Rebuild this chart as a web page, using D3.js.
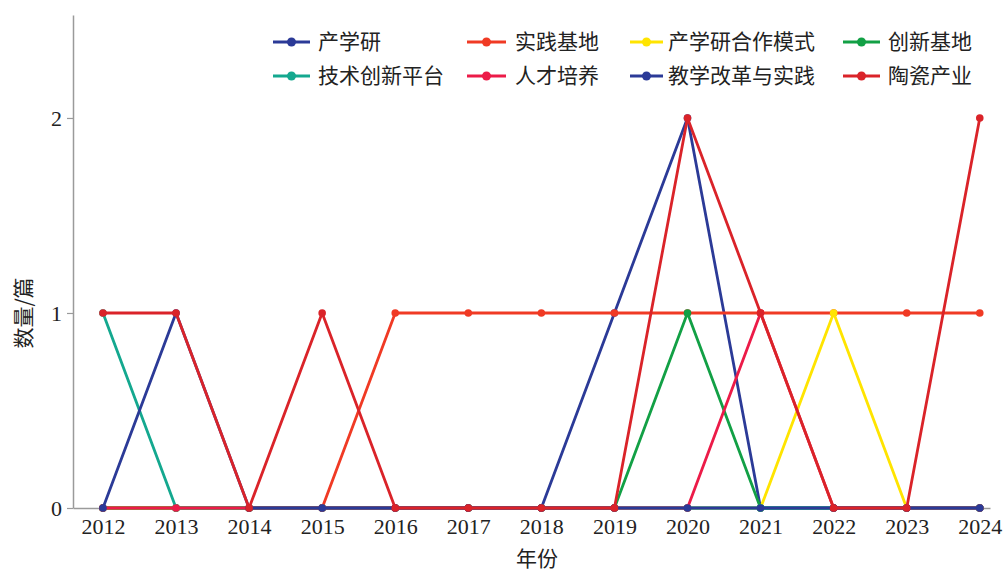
<!DOCTYPE html>
<html><head><meta charset="utf-8">
<script src="https://cdn.jsdelivr.net/npm/d3@7"></script>
<style>html,body{margin:0;padding:0;background:#fff;}</style>
</head><body>
<svg id="chart" width="1004" height="572"></svg>
<script>
const years = [2012,2013,2014,2015,2016,2017,2018,2019,2020,2021,2022,2023,2024];
const seriesNames = ["产学研","实践基地","产学研合作模式","创新基地","技术创新平台","人才培养","教学改革与实践","陶瓷产业"];
const seriesColors = ["#2B3A97","#F03A24","#FFE400","#12A045","#14A88F","#EC1B48","#2B3A97","#DA2329"];
const v_chanxueyan   = [0,0,0,0,0,0,0,1,2,0,0,0,0];
const v_shijianjidi  = [0,0,0,0,1,1,1,1,1,1,1,1,1];
const v_hezuomoshi   = [0,0,0,0,0,0,0,0,0,0,1,0,0];
const v_chuangxinjidi= [0,0,0,0,0,0,0,0,1,0,0,0,0];
const v_jishupingtai = [1,0,0,0,0,0,0,0,0,0,0,0,0];
const v_rencai       = [0,0,0,0,0,0,0,0,0,1,0,0,0];
const v_jiaoxue      = [0,1,0,0,0,0,0,0,0,0,0,0,0];
const v_taoci        = [1,1,0,1,0,0,0,0,2,1,0,0,2];
const seriesValues = [v_chanxueyan,v_shijianjidi,v_hezuomoshi,v_chuangxinjidi,v_jishupingtai,v_rencai,v_jiaoxue,v_taoci];
const yTicks = [0,1,2];

const svg = d3.select("#chart");
const x = d3.scaleLinear().domain([2011.59, 2024.14]).range([73, 990]);
const y = d3.scaleLinear().domain([0, 2.528]).range([508, 15]);

// axes
const xAxis = d3.axisBottom(x).tickValues(years).tickFormat(d3.format("d")).tickSize(0).tickPadding(10);
const gx = svg.append("g").attr("transform","translate(0,508)").call(xAxis);
gx.select(".domain").attr("stroke","#9a9a9a").attr("stroke-width",1.5);
gx.selectAll("text").attr("font-family","'Liberation Serif','Times New Roman',serif").attr("font-size",22).attr("fill","#222");

const yAxis = d3.axisLeft(y).tickValues(yTicks).tickFormat(d3.format("d")).tickSize(6).tickSizeOuter(0).tickPadding(5);
const gy = svg.append("g").attr("transform","translate(73,0)").call(yAxis);
gy.select(".domain").attr("stroke","#9a9a9a").attr("stroke-width",1.5);
gy.selectAll(".tick line").attr("stroke","#9a9a9a").attr("stroke-width",1.2);
gy.selectAll("text").attr("font-family","'Liberation Serif','Times New Roman',serif").attr("font-size",22).attr("fill","#222");

// titles
svg.append("text").attr("x",537).attr("y",566).attr("text-anchor","middle")
  .attr("font-family","'Noto Sans CJK SC',sans-serif").attr("font-size",21).attr("fill","#222").text("年份");
svg.append("text").attr("transform","translate(31,313) rotate(-90)").attr("text-anchor","middle")
  .attr("font-family","'Noto Sans CJK SC',sans-serif").attr("font-size",21).attr("fill","#222").text("数量/篇");

// lines
const line = d3.line().x((d,i)=>x(years[i])).y(d=>y(d));
seriesValues.forEach((vals,si)=>{
  const g = svg.append("g");
  g.append("path").datum(vals).attr("d",line).attr("fill","none")
    .attr("stroke",seriesColors[si]).attr("stroke-width",2.8).attr("stroke-linejoin","round");
  g.selectAll("circle").data(vals).join("circle")
    .attr("cx",(d,i)=>x(years[i])).attr("cy",d=>y(d)).attr("r",3.8).attr("fill",seriesColors[si]);
});

// legend
const legCols = [[273,310,318],[467,506,515],[630,663,668],[843,880,888]];
const legRows = [42,76];
seriesNames.forEach((name,i)=>{
  const c = legCols[i%4], r = legRows[Math.floor(i/4)];
  const g = svg.append("g");
  g.append("line").attr("x1",c[0]).attr("x2",c[1]).attr("y1",r).attr("y2",r)
    .attr("stroke",seriesColors[i]).attr("stroke-width",3);
  g.append("circle").attr("cx",(c[0]+c[1])/2).attr("cy",r).attr("r",4.5).attr("fill",seriesColors[i]);
  g.append("text").attr("x",c[2]).attr("y",r).attr("dy","0.35em")
    .attr("font-family","'Noto Sans CJK SC',sans-serif").attr("font-size",21).attr("fill","#222").text(name);
});
</script>
</body></html>
